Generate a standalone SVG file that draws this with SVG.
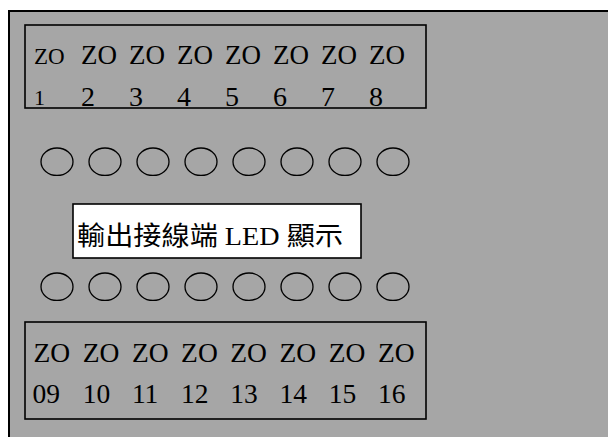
<svg xmlns="http://www.w3.org/2000/svg" width="608" height="437" viewBox="0 0 608 437">
<style>
.t{font-family:"Liberation Serif","Noto Sans CJK TC",serif;fill:#000}
.box{fill:none;stroke:#000;stroke-width:1.6}
.led{fill:none;stroke:#000;stroke-width:1.3}
</style>
<rect width="608" height="437" fill="#fff"/>
<g id="panel">
<rect x="9" y="11" width="640" height="460" fill="#a6a6a6" stroke="#000" stroke-width="2"/>
</g>
<g id="top-terminals">
<rect class="box" x="25" y="25" width="401" height="83"/>
<g class="t" font-size="27">
<text x="34" y="64" font-size="23">ZO</text>
<text x="81" y="64">ZO</text><text x="129" y="64">ZO</text><text x="177" y="64">ZO</text><text x="225" y="64">ZO</text><text x="273" y="64">ZO</text><text x="321" y="64">ZO</text><text x="369" y="64">ZO</text>
</g>
<g class="t" font-size="28">
<text x="34" y="105" font-size="22">1</text>
<text x="81" y="106">2</text><text x="129" y="106">3</text><text x="177" y="106">4</text><text x="225" y="106">5</text><text x="273" y="106">6</text><text x="321" y="106">7</text><text x="369" y="106">8</text>
</g>
</g>
<g id="top-leds">
<ellipse class="led" cx="57" cy="161.7" rx="16" ry="13.7"/>
<ellipse class="led" cx="105" cy="161.7" rx="16" ry="13.7"/>
<ellipse class="led" cx="153" cy="161.7" rx="16" ry="13.7"/>
<ellipse class="led" cx="201" cy="161.7" rx="16" ry="13.7"/>
<ellipse class="led" cx="249" cy="161.7" rx="16" ry="13.7"/>
<ellipse class="led" cx="297" cy="161.7" rx="16" ry="13.7"/>
<ellipse class="led" cx="345" cy="161.7" rx="16" ry="13.7"/>
<ellipse class="led" cx="393" cy="161.7" rx="16" ry="13.7"/>
</g>
<g id="label">
<rect x="73" y="204" width="288" height="54" fill="#fff" stroke="#000" stroke-width="1.6"/>
<text class="t" x="77" y="245" font-size="26" textLength="266" lengthAdjust="spacingAndGlyphs">輸出接線端 LED 顯示</text>
</g>
<g id="bottom-leds">
<ellipse class="led" cx="57" cy="286.7" rx="16" ry="13.7"/>
<ellipse class="led" cx="105" cy="286.7" rx="16" ry="13.7"/>
<ellipse class="led" cx="153" cy="286.7" rx="16" ry="13.7"/>
<ellipse class="led" cx="201" cy="286.7" rx="16" ry="13.7"/>
<ellipse class="led" cx="249" cy="286.7" rx="16" ry="13.7"/>
<ellipse class="led" cx="297" cy="286.7" rx="16" ry="13.7"/>
<ellipse class="led" cx="345" cy="286.7" rx="16" ry="13.7"/>
<ellipse class="led" cx="393" cy="286.7" rx="16" ry="13.7"/>
</g>
<g id="bottom-terminals">
<rect class="box" x="25" y="322" width="401" height="97"/>
<g class="t" font-size="27.5">
<text x="33.5" y="361.7">ZO</text><text x="82.7" y="361.7">ZO</text><text x="131.9" y="361.7">ZO</text><text x="181.1" y="361.7">ZO</text><text x="230.3" y="361.7">ZO</text><text x="279.5" y="361.7">ZO</text><text x="328.7" y="361.7">ZO</text><text x="377.9" y="361.7">ZO</text>
<text x="32.5" y="402.7">09</text><text x="82.7" y="402.7">10</text><text x="131.9" y="402.7">11</text><text x="181.1" y="402.7">12</text><text x="230.3" y="402.7">13</text><text x="279.5" y="402.7">14</text><text x="328.7" y="402.7">15</text><text x="377.9" y="402.7">16</text>
</g>
</g>
</svg>
